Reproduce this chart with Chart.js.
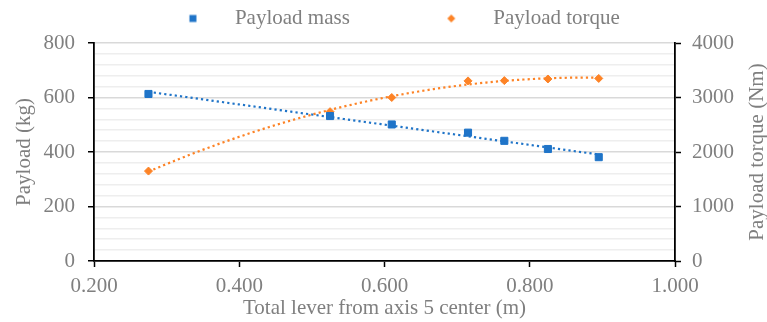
<!DOCTYPE html>
<html>
<head>
<meta charset="utf-8">
<script src="https://cdn.jsdelivr.net/npm/chart.js@4.4.1/dist/chart.umd.min.js"></script>
<style>
  body { margin: 0; background: #fff; }
  #wrap { width: 767px; height: 322px; position: relative; }
</style>
</head>
<body>
<div id="wrap"><canvas id="myChart"></canvas></div>
<script>
// values
var leverX = [0.275, 0.525, 0.610, 0.715, 0.765, 0.825, 0.895];
var payloadMass = [613, 532, 501, 471, 441, 411, 381];
var payloadTorque = [1650, 2740, 3000, 3305, 3310, 3340, 3350];
var seriesNames = ['Payload mass', 'Payload torque'];
var xTicks = [0.2, 0.4, 0.6, 0.8, 1.0];
var massTicks = [0, 200, 400, 600, 800];
var torqueTicks = [0, 1000, 2000, 3000, 4000];

var BLUE = '#1f74c8';
var ORANGE = '#fd8326';
var GREY = '#7f7f7f';
var FONT = '"Liberation Serif", "Times New Roman", serif';
var FONT_SIZE = 21;

// least squares polynomial, used for the dotted trendlines
function polyFit(xs, ys, deg) {
  var n = deg + 1;
  var A = [];
  for (var i = 0; i < n; i++) { A.push(new Array(n + 1).fill(0)); }
  for (var k = 0; k < xs.length; k++) {
    for (var i = 0; i < n; i++) {
      for (var j = 0; j < n; j++) A[i][j] += Math.pow(xs[k], i + j);
      A[i][n] += ys[k] * Math.pow(xs[k], i);
    }
  }
  for (var c = 0; c < n; c++) {
    for (var r = c + 1; r < n; r++) {
      var f = A[r][c] / A[c][c];
      for (var q = c; q <= n; q++) A[r][q] -= f * A[c][q];
    }
  }
  var coef = new Array(n).fill(0);
  for (var r = n - 1; r >= 0; r--) {
    var s = A[r][n];
    for (var q = r + 1; q < n; q++) s -= A[r][q] * coef[q];
    coef[r] = s / A[r][r];
  }
  return coef;
}

function trendPoints(xs, ys, deg) {
  var coef = polyFit(xs, ys, deg);
  var lo = Math.min.apply(null, xs), hi = Math.max.apply(null, xs);
  var pts = [];
  for (var i = 0; i <= 60; i++) {
    var x = lo + (hi - lo) * i / 60;
    var y = 0;
    for (var d = 0; d < coef.length; d++) y += coef[d] * Math.pow(x, d);
    pts.push({x: x, y: y});
  }
  return pts;
}

function toPoints(xs, ys) {
  return xs.map(function (x, i) { return {x: x, y: ys[i]}; });
}

// small canvas used as legend marker, shifted right so it sits away from the box start
function legendMarker(shape, color) {
  var c = document.createElement('canvas');
  c.width = 76; c.height = 12;
  var g = c.getContext('2d');
  g.fillStyle = color;
  var cx = 69, cy = 6;
  if (shape === 'rect') {
    g.fillRect(cx - 3.5, cy - 3.5, 7, 7);
  } else {
    g.beginPath();
    g.moveTo(cx - 4, cy); g.lineTo(cx, cy - 4); g.lineTo(cx + 4, cy); g.lineTo(cx, cy + 4);
    g.closePath(); g.fill();
  }
  return c;
}
var legendMarkers = [legendMarker('rect', BLUE), legendMarker('diamond', ORANGE)];

var legendHeight = {
  id: 'legendHeight',
  beforeInit: function (chart) {
    var fit = chart.legend.fit;
    chart.legend.fit = function () {
      fit.bind(chart.legend)();
      this.height = 43;
    };
  }
};

// right axis title reads bottom-to-top like the left one
var rightTitle = {
  id: 'rightTitle',
  afterDraw: function (chart) {
    var ctx = chart.ctx;
    var area = chart.chartArea;
    ctx.save();
    ctx.translate(chart.scales.y2.right + 22, (area.top + area.bottom) / 2);
    ctx.rotate(-Math.PI / 2);
    ctx.font = FONT_SIZE + 'px ' + FONT;
    ctx.fillStyle = GREY;
    ctx.textAlign = 'center';
    ctx.textBaseline = 'middle';
    ctx.fillText('Payload torque (Nm)', 0, 0);
    ctx.restore();
  }
};

Chart.defaults.font.family = FONT;
Chart.defaults.font.size = FONT_SIZE;
Chart.defaults.color = GREY;

var ctx = document.getElementById('myChart').getContext('2d');
var myChart = new Chart(ctx, {
  type: 'scatter',
  data: {
    datasets: [{
      label: seriesNames[0],
      data: toPoints(leverX, payloadMass),
      yAxisID: 'y',
      backgroundColor: BLUE,
      borderColor: BLUE,
      pointStyle: 'rect',
      pointRadius: 5,
      pointBorderWidth: 1,
      order: 1
    }, {
      label: seriesNames[1],
      data: toPoints(leverX, payloadTorque),
      yAxisID: 'y2',
      backgroundColor: ORANGE,
      borderColor: ORANGE,
      pointStyle: 'rectRot',
      pointRadius: 4,
      pointBorderWidth: 1,
      order: 1
    }, {
      label: 'mass trend',
      data: trendPoints(leverX, payloadMass, 1),
      yAxisID: 'y',
      showLine: true,
      pointRadius: 0,
      borderColor: BLUE,
      borderWidth: 2.2,
      borderDash: [2.2, 3.1],
      order: 2
    }, {
      label: 'torque trend',
      data: trendPoints(leverX, payloadTorque, 2),
      yAxisID: 'y2',
      showLine: true,
      pointRadius: 0,
      borderColor: ORANGE,
      borderWidth: 2.2,
      borderDash: [2.2, 3.1],
      order: 2
    }]
  },
  options: {
    responsive: true,
    maintainAspectRatio: false,
    animation: false,
    layout: { padding: { left: 0, right: 32, top: 0, bottom: 0 } },
    plugins: {
      tooltip: { enabled: false },
      legend: {
        position: 'top',
        labels: {
          color: GREY,
          font: { size: FONT_SIZE },
          padding: 8,
          usePointStyle: true,
          pointStyleWidth: 125,
          generateLabels: function (chart) {
            var items = Chart.defaults.plugins.legend.labels.generateLabels(chart);
            return items.filter(function (it) { return it.datasetIndex < 2; }).map(function (it) {
              it.pointStyle = legendMarkers[it.datasetIndex];
              if (it.datasetIndex === 1) it.text = it.text + '   ';
              return it;
            });
          }
        }
      }
    },
    scales: {
      x: {
        type: 'linear',
        min: xTicks[0],
        max: xTicks[xTicks.length - 1],
        afterBuildTicks: function (axis) {
          axis.ticks = xTicks.map(function (v) { return {value: v}; });
        },
        afterFit: function (axis) { axis.height = 61; },
        ticks: {
          padding: 7,
          maxRotation: 0,
          color: GREY,
          callback: function (v) { return Number(v).toFixed(3); }
        },
        grid: { drawOnChartArea: false, tickLength: 6, tickColor: '#000', tickWidth: 1.5 },
        border: { color: '#000', width: 1.8 },
        title: {
          display: true,
          text: 'Total lever from axis 5 center (m)',
          color: GREY,
          padding: { top: 0, bottom: 1 }
        }
      },
      y: {
        position: 'left',
        min: 0,
        max: 800,
        afterFit: function (axis) { axis.width = 94; },
        ticks: {
          stepSize: 40,
          autoSkip: false,
          padding: 13,
          color: GREY,
          callback: function (v) { return massTicks.indexOf(v) >= 0 ? v : ''; }
        },
        grid: {
          tickLength: 6,
          lineWidth: 1.5,
          color: function (c) { return c.tick && c.tick.value % 200 === 0 ? '#d9d9d9' : '#eeeeee'; },
          tickColor: function (c) { return c.tick && c.tick.value % 200 === 0 ? '#000' : 'rgba(0,0,0,0)'; }
        },
        border: { color: '#000', width: 1.8 },
        title: {
          display: true,
          text: 'Payload (kg)',
          color: GREY,
          padding: { top: 12, bottom: 8 }
        }
      },
      y2: {
        position: 'right',
        min: 0,
        max: 4000,
        afterBuildTicks: function (axis) {
          axis.ticks = torqueTicks.map(function (v) { return {value: v}; });
        },
        afterFit: function (axis) { axis.width = 60; },
        ticks: {
          padding: 11,
          color: GREY,
          callback: function (v) { return String(v); }
        },
        grid: { drawOnChartArea: false, tickLength: 6, tickColor: '#000', tickWidth: 1.5 },
        border: { color: '#000', width: 1.8 }
      }
    }
  },
  plugins: [legendHeight, rightTitle]
});
</script>
</body>
</html>
